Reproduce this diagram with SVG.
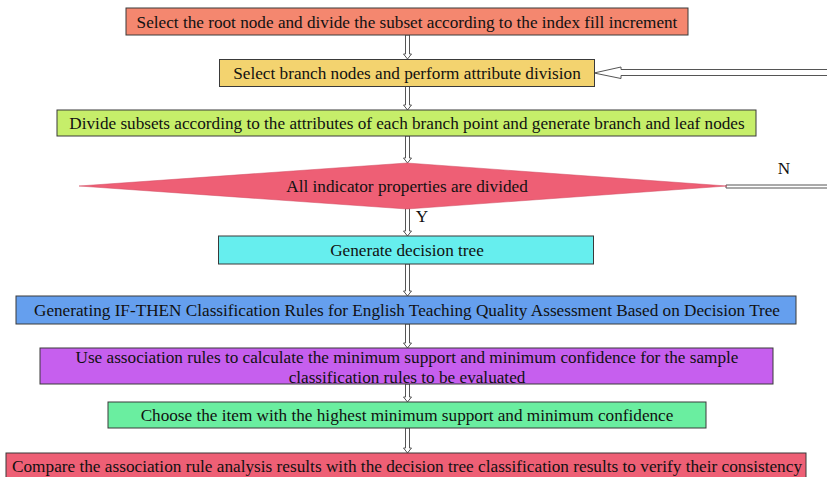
<svg xmlns="http://www.w3.org/2000/svg" width="827" height="477" viewBox="0 0 827 477">
<style>
.box{stroke:#3a3a3a;stroke-width:1}
.t{font-family:"Liberation Serif","Times New Roman",serif;font-size:17.2px;fill:#111;text-anchor:middle;dominant-baseline:central}
.arr{fill:#fff;stroke:#555;stroke-width:1}
</style>
<rect width="827" height="477" fill="#fff"/>
<g id="connectors">
<path class="arr" d="M405.5,35 V54 H403.5 L407.5,59 L411.5,54 H409.5 V35 Z"/>
<path class="arr" d="M405.5,86 V105 H403.5 L407.5,110 L411.5,105 H409.5 V86 Z"/>
<path class="arr" d="M405.5,136 V158 H403.5 L407.5,163 L411.5,158 H409.5 V136 Z"/>
<path class="arr" d="M405.5,208 V231 H403.5 L407.5,236 L411.5,231 H409.5 V208 Z"/>
<path class="arr" d="M405.5,264 V291 H403.5 L407.5,296 L411.5,291 H409.5 V264 Z"/>
<path class="arr" d="M405.5,324 V343 H403.5 L407.5,348 L411.5,343 H409.5 V324 Z"/>
<path class="arr" d="M405.5,384 V397 H403.5 L407.5,402 L411.5,397 H409.5 V384 Z"/>
<path class="arr" d="M405.5,428 V448 H403.5 L407.5,453 L411.5,448 H409.5 V428 Z"/>
<path class="arr" d="M828,69.5 H621 V67 L594,73 L621,78.5 V75.5 H828 Z"/>
<path class="arr" d="M828,185 H726 V188 H828 Z"/>
<text class="t" x="784" y="168">N</text>
<text class="t" x="422" y="216">Y</text>
</g>
<g id="n1">
<rect class="box" x="126" y="8" width="562" height="27" fill="#F4876F"/>
<text class="t" x="407" y="22">Select the root node and divide the subset according to the index fill increment</text>
</g>
<g id="n2">
<rect class="box" x="219.5" y="59.5" width="375" height="27" fill="#F3D36F"/>
<text class="t" x="407" y="73">Select branch nodes and perform attribute division</text>
</g>
<g id="n3">
<rect class="box" x="57" y="110" width="699" height="26" fill="#C6EE6A"/>
<text class="t" x="407" y="123">Divide subsets according to the attributes of each branch point and generate branch and leaf nodes</text>
</g>
<g id="n4">
<polygon points="79,186 407,163 727,186 407,209" fill="#EE5F75" stroke="#d04a60" stroke-width="0.5"/>
<text class="t" x="407" y="186">All indicator properties are divided</text>
</g>
<g id="n5">
<rect class="box" x="218.5" y="236" width="375" height="28" fill="#66EEEE"/>
<text class="t" x="407" y="250">Generate decision tree</text>
</g>
<g id="n6">
<rect class="box" x="16" y="296" width="780" height="28" fill="#659FEE"/>
<text class="t" x="407" y="310">Generating IF-THEN Classification Rules for English Teaching Quality Assessment Based on Decision Tree</text>
</g>
<g id="n7">
<rect class="box" x="40" y="348" width="733" height="36" fill="#C65FEE"/>
<text class="t" x="407" y="357">Use association rules to calculate the minimum support and minimum confidence for the sample</text>
<text class="t" x="407" y="377">classification rules to be evaluated</text>
</g>
<g id="n8">
<rect class="box" x="108" y="402" width="598" height="26" fill="#6AEEA0"/>
<text class="t" x="407" y="415">Choose the item with the highest minimum support and minimum confidence</text>
</g>
<g id="n9">
<rect class="box" x="6" y="453" width="800" height="26" fill="#EE5F75"/>
<text class="t" x="407" y="466" textLength="790" lengthAdjust="spacingAndGlyphs">Compare the association rule analysis results with the decision tree classification results to verify their consistency</text>
</g>
</svg>
